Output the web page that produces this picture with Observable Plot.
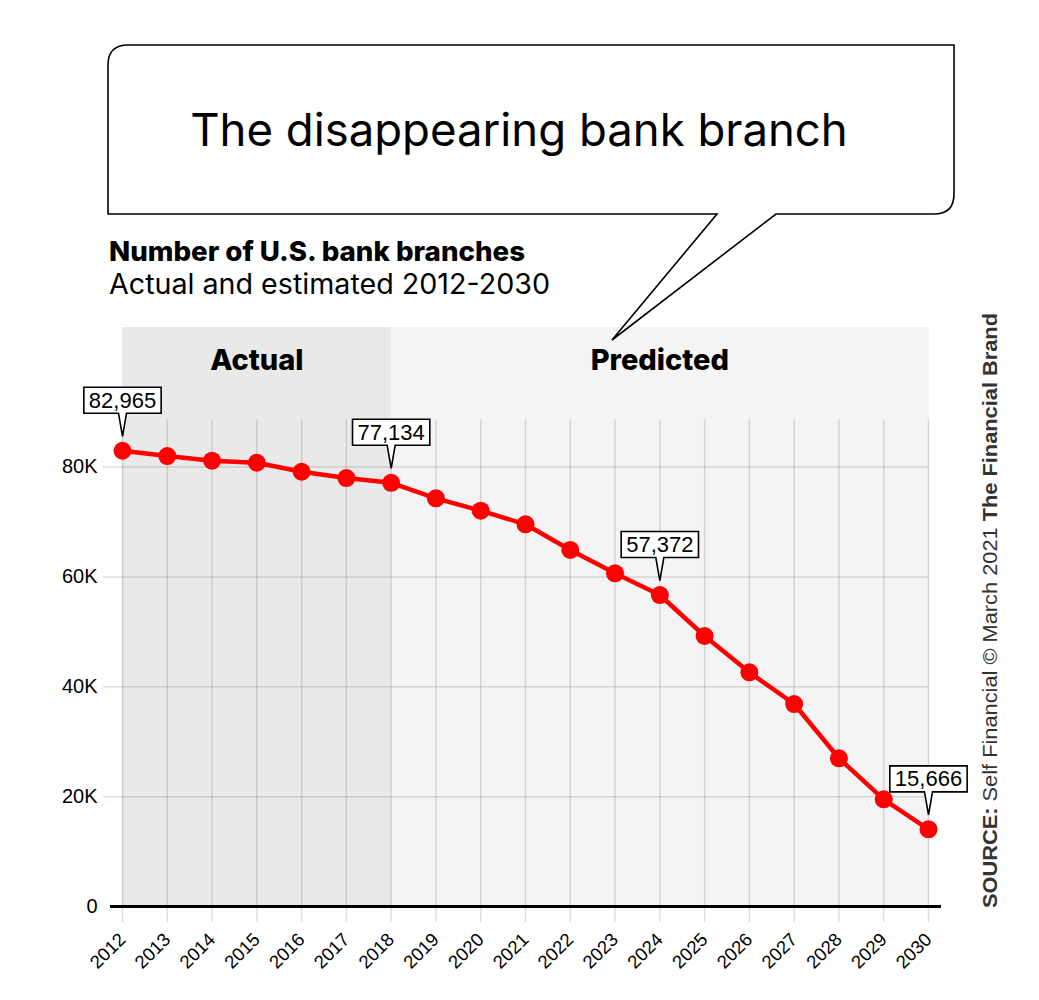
<!DOCTYPE html>
<html><head><meta charset="utf-8">
<script src="https://cdn.jsdelivr.net/npm/d3@7"></script>
<script src="https://cdn.jsdelivr.net/npm/@observablehq/plot@0.6"></script>
<style>
body{margin:0;background:#fff;}
#chart{position:relative;width:1039px;height:1000px;}
</style></head><body><div id="chart"></div>
<script>
// ---- data ----
const years = [2012,2013,2014,2015,2016,2017,2018,2019,2020,2021,2022,2023,2024,2025,2026,2027,2028,2029,2030];
const branches = [82965,82000,81150,80780,79140,78000,77134,74300,72050,69570,64900,60650,56700,49240,42630,36860,26980,19510,14050];
const phaseNames = ["Actual","Predicted"];
const phaseStart = [2012,2018];
const phaseEnd = [2018,2030];
const phaseFill = ["#e9e9e9","#f4f4f4"];
const yTicks = [0,20000,40000,60000,80000];
const yTickLabels = ["0","20K","40K","60K","80K"];
const calloutYears = [2012,2018,2024,2030];
const calloutLabels = ["82,965","77,134","57,372","15,666"];
const headline = "The disappearing bank branch";
const title = "Number of U.S. bank branches";
const subtitle = "Actual and estimated 2012-2030";

const data = years.map((y,i)=>({year:y, value:branches[i]}));
const phases = phaseNames.map((n,i)=>({name:n, x1:phaseStart[i], x2:phaseEnd[i], mid:(phaseStart[i]+phaseEnd[i])/2, fill:phaseFill[i]}));
const callouts = calloutYears.map((y,i)=>({year:y, value:branches[years.indexOf(y)], label:calloutLabels[i]}));

const Y_TOP = 105400;   // top of header band
const GRID_TOP = 88600; // where vertical grid lines start
const LABEL_Y = 99400;  // band labels
const FONT = "'Liberation Sans', Arial, sans-serif";
const HFONT = "Inter, 'Noto Sans', sans-serif";

const plot = Plot.plot({
  width: 1039,
  height: 1000,
  marginLeft: 122,
  marginRight: 111,
  marginTop: 327,
  marginBottom: 94,
  style: {fontFamily: FONT, background: "transparent", overflow: "visible"},
  x: {type: "linear", domain: [2012, 2030], label: null},
  y: {domain: [0, Y_TOP], label: null},
  marks: [
    Plot.rect(phases, {x1: "x1", x2: "x2", y1: 0, y2: Y_TOP, fill: "fill", insetRight: -1}),
    Plot.ruleX(years, {y1: GRID_TOP, y2: 0, stroke: "#000", strokeOpacity: 0.13, strokeWidth: 1.5, insetBottom: -16}),
    Plot.ruleY(yTicks.filter(d=>d>0), {stroke: "#000", strokeOpacity: 0.13, strokeWidth: 1.5, insetLeft: -19}),
    Plot.axisY({ticks: yTicks, tickFormat: (d)=>yTickLabels[yTicks.indexOf(d)], tickSize: 0, tickPadding: 25, fontSize: 20, fill: "#000", label: null}),
    Plot.axisX({ticks: years, tickFormat: (d)=>String(d), tickSize: 0, tickPadding: 30, tickRotate: -45, fontSize: 18.5, fill: "#000", label: null}),
    Plot.ruleY([0], {stroke: "#000", strokeWidth: 3, insetLeft: -12, insetRight: -13}),
    Plot.text(phases, {x: "mid", y: LABEL_Y, text: "name", fontSize: 29, fontWeight: 800, fontFamily: HFONT, fill: "#000"}),
    Plot.line(data, {x: "year", y: "value", stroke: "#ff0000", strokeWidth: 4.5}),
    Plot.dot(data, {x: "year", y: "value", r: 9, fill: "#ff0000"}),
    Plot.text(callouts, {x: "year", y: "value", text: "label", dy: -50, fontSize: 22, fill: "#000", className: "callout"})
  ]
});

document.getElementById("chart").appendChild(plot);

// callout boxes
const svg = d3.select(plot);
const sr = plot.getBoundingClientRect();
const cg = plot.querySelector("g.callout") || Array.from(plot.querySelectorAll("g")).find(g=>g.getAttribute("class") && g.getAttribute("class").includes("callout"));
if (cg) {
  const boxG = document.createElementNS("http://www.w3.org/2000/svg","g");
  cg.parentNode.insertBefore(boxG, cg);
  cg.querySelectorAll("text").forEach(t=>{
    const b = t.getBoundingClientRect();
    const l = b.left - sr.left - 5, r = b.right - sr.left + 5;
    const mid = (b.top + b.bottom)/2 - sr.top;
    const top = mid - 13, bot = mid + 13;
    const cx = (l + r)/2;
    d3.select(boxG).append("path")
      .attr("d", `M${l},${top}H${r}V${bot}H${cx+4}L${cx},${bot+23}L${cx-4},${bot}H${l}Z`)
      .attr("fill", "#fff").attr("stroke", "#000").attr("stroke-width", 1.6).attr("stroke-linejoin","miter");
  });
}

// speech bubble + titles
const deco = svg.append("g").attr("text-anchor", "start");
const L=108, R=954, T=45, B=214, rad=20;
deco.append("path")
  .attr("d", `M${L},${B}V${T+rad}Q${L},${T} ${L+rad},${T}H${R}V${B-rad}Q${R},${B} ${R-rad},${B}H776L612,340L717,${B}Z`)
  .attr("fill", "#fff").attr("stroke", "#000").attr("stroke-width", 1.6).attr("stroke-linejoin","miter");
deco.append("text").attr("x", 519).attr("y", 146).attr("text-anchor","middle")
  .attr("font-family", HFONT).attr("font-size", 45.5).attr("fill","#000").text(headline);
deco.append("text").attr("x", 109).attr("y", 261).attr("text-anchor","start")
  .attr("font-family", HFONT).attr("font-size", 27).attr("font-weight", 800)
  .attr("textLength", 416).attr("lengthAdjust", "spacingAndGlyphs").attr("fill","#000").text(title);
deco.append("text").attr("x", 109).attr("y", 294).attr("text-anchor","start")
  .attr("font-family", HFONT).attr("font-size", 28).attr("textLength", 441).attr("lengthAdjust", "spacingAndGlyphs")
  .attr("fill","#000").text(subtitle);

const src = deco.append("text").attr("transform","translate(997,908) rotate(-90)").attr("text-anchor","start")
  .attr("font-family", FONT).attr("font-size", 21).attr("textLength", 595).attr("lengthAdjust", "spacingAndGlyphs").attr("fill","#333");
src.append("tspan").attr("font-weight","bold").text("SOURCE: ");
src.append("tspan").text("Self Financial © March 2021 ");
src.append("tspan").attr("font-weight","bold").text("The Financial Brand");
</script></body></html>
